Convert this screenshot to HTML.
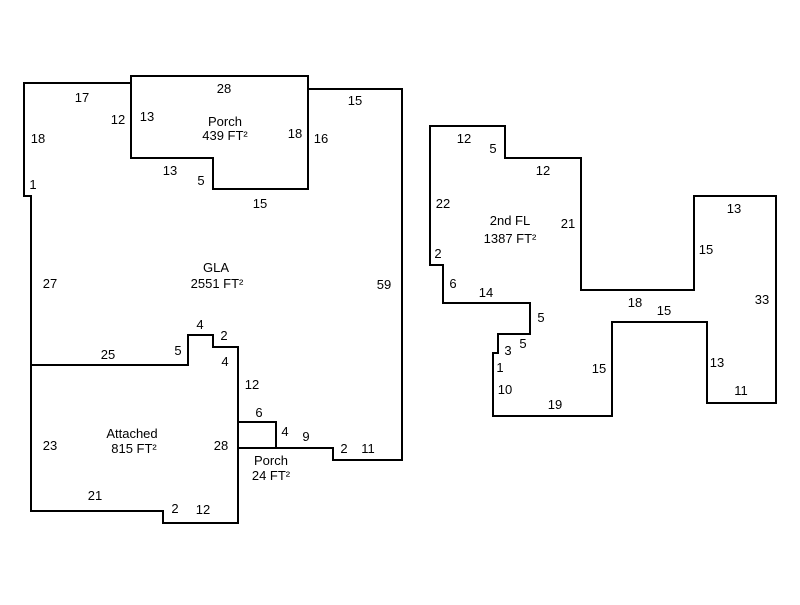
<!DOCTYPE html>
<html><head><style>body{margin:0;background:#fff}</style></head><body>
<svg width="800" height="600" xmlns="http://www.w3.org/2000/svg" font-family="Liberation Sans, Arial, sans-serif" font-size="13" fill="#000">
<rect width="800" height="600" fill="#fff"/>
<g fill="none" stroke="#000" stroke-width="2">
<path d="M308,89 H402 V460 H333 V448 H238 V347 H213 V335 H188 V365 H31 V196 H24 V83 H131"/>
<path d="M131,76 H308 V189 H213 V158 H131 Z"/>
<path d="M31,365 V511 H163 V523 H238 V347"/>
<path d="M238,422 H276 V448"/>
<path d="M430,126 H505 V158 H581 V290 H694 V196 H776 V403 H707 V322 H612 V416 H493 V353 H498 V334 H530 V303 H443 V265 H430 Z"/>
</g>
<g text-anchor="middle">
<text x="224" y="93">28</text>
<text x="82" y="102">17</text>
<text x="355" y="105">15</text>
<text x="118" y="124">12</text>
<text x="147" y="121">13</text>
<text x="225" y="126">Porch</text>
<text x="225" y="140">439 FT²</text>
<text x="295" y="138">18</text>
<text x="321" y="143">16</text>
<text x="38" y="143">18</text>
<text x="170" y="175">13</text>
<text x="201" y="185">5</text>
<text x="33" y="189">1</text>
<text x="260" y="208">15</text>
<text x="216" y="272">GLA</text>
<text x="217" y="288">2551 FT²</text>
<text x="50" y="288">27</text>
<text x="384" y="289">59</text>
<text x="200" y="329">4</text>
<text x="224" y="340">2</text>
<text x="108" y="359">25</text>
<text x="178" y="355">5</text>
<text x="225" y="366">4</text>
<text x="252" y="389">12</text>
<text x="259" y="417">6</text>
<text x="285" y="436">4</text>
<text x="306" y="441">9</text>
<text x="132" y="438">Attached</text>
<text x="134" y="453">815 FT²</text>
<text x="50" y="450">23</text>
<text x="221" y="450">28</text>
<text x="344" y="453">2</text>
<text x="368" y="453">11</text>
<text x="271" y="465">Porch</text>
<text x="271" y="480">24 FT²</text>
<text x="95" y="500">21</text>
<text x="175" y="513">2</text>
<text x="203" y="514">12</text>
<text x="464" y="143">12</text>
<text x="493" y="153">5</text>
<text x="543" y="175">12</text>
<text x="443" y="208">22</text>
<text x="510" y="225">2nd FL</text>
<text x="510" y="243">1387 FT²</text>
<text x="568" y="228">21</text>
<text x="734" y="213">13</text>
<text x="706" y="254">15</text>
<text x="438" y="258">2</text>
<text x="453" y="288">6</text>
<text x="486" y="297">14</text>
<text x="762" y="304">33</text>
<text x="635" y="307">18</text>
<text x="664" y="315">15</text>
<text x="541" y="322">5</text>
<text x="523" y="348">5</text>
<text x="508" y="355">3</text>
<text x="500" y="372">1</text>
<text x="599" y="373">15</text>
<text x="717" y="367">13</text>
<text x="505" y="394">10</text>
<text x="741" y="395">11</text>
<text x="555" y="409">19</text>
</g>
</svg>
</body></html>
